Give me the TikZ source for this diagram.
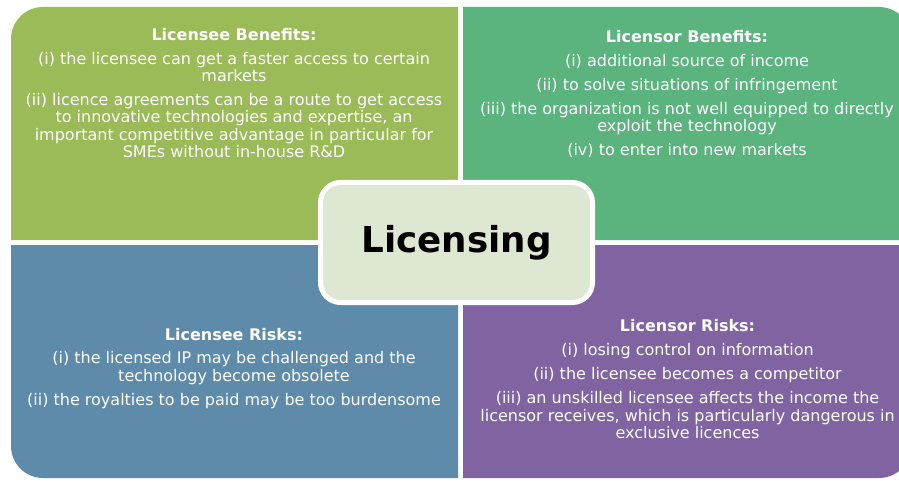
\documentclass[tikz,border=0pt]{standalone}
\usepackage{fontspec}
\setmainfont{DejaVu Sans}
\definecolor{tlcol}{HTML}{9BBB59}
\definecolor{trcol}{HTML}{5BB37E}
\definecolor{blcol}{HTML}{5E8BAA}
\definecolor{brcol}{HTML}{8064A2}
\definecolor{centerfill}{HTML}{DEE7D1}
\tikzset{
  qtext/.style={text=white, align=center, inner sep=0pt, anchor=north,
    font=\fontsize{16}{17.3}\selectfont},
  centerbox/.style={draw=white, line width=5pt, fill=centerfill,
    rounded corners=20pt, minimum width=272pt, minimum height=120pt,
    inner sep=0pt, text=black, font=\fontsize{35.7}{40}\selectfont\bfseries}
}
\newcommand{\qtitle}[1]{\textbf{#1}}
\begin{document}
\begin{tikzpicture}[x=1pt,y=-1pt]
\useasboundingbox (0,0) rectangle (899,481);
\clip (0,0) rectangle (899,481);
\fill[white] (0,0) rectangle (899,481);
% quadrants
\fill[tlcol] (458,240) -- (11,240) -- (11,39) arc[start angle=180, end angle=270, radius=32] -- (458,7) -- cycle;
\fill[trcol] (463,240) -- (463,7) -- (879,7) arc[start angle=270, end angle=360, radius=32] -- (911,240) -- cycle;
\fill[blcol] (11,245) -- (458,245) -- (458,478) -- (43,478) arc[start angle=90, end angle=180, radius=32] -- cycle;
\fill[brcol] (463,245) -- (911,245) -- (911,446) arc[start angle=0, end angle=90, radius=32] -- (463,478) -- cycle;
% texts
\node[qtext] (tl) at (234,27.8) {\qtitle{Licensee Benefits:}\\[6.8pt]
(i) the licensee can get a faster access to certain\\ markets\\[6.8pt]
(ii) licence agreements can be a route to get access\\
to innovative technologies and expertise, an\\
important competitive advantage in particular for\\
SMEs without in-house R\&D};
\node[qtext] (tr) at (687,30.3) {\qtitle{Licensor Benefits:}\\[6.5pt]
(i) additional source of income\\[6.7pt]
(ii) to solve situations of infringement\\[6.7pt]
(iii) the organization is not well equipped to directly\\
exploit the technology\\[6.7pt]
(iv) to enter into new markets};
\node[qtext] (bl) at (234,327.8) {\qtitle{Licensee Risks:}\\[6.3pt]
(i) the licensed IP may be challenged and the\\
technology become obsolete\\[6.7pt]
(ii) the royalties to be paid may be too burdensome};
\node[qtext] (br) at (687.5,319.5) {\qtitle{Licensor Risks:}\\[6.8pt]
(i) losing control on information\\[6.7pt]
(ii) the licensee becomes a competitor\\[6.7pt]
(iii) an unskilled licensee affects the income the\\
licensor receives, which is particularly dangerous in\\
exclusive licences};
% center
\node[centerbox] (lic) at (456.5,242.5) {Licensing};
\end{tikzpicture}
\end{document}
